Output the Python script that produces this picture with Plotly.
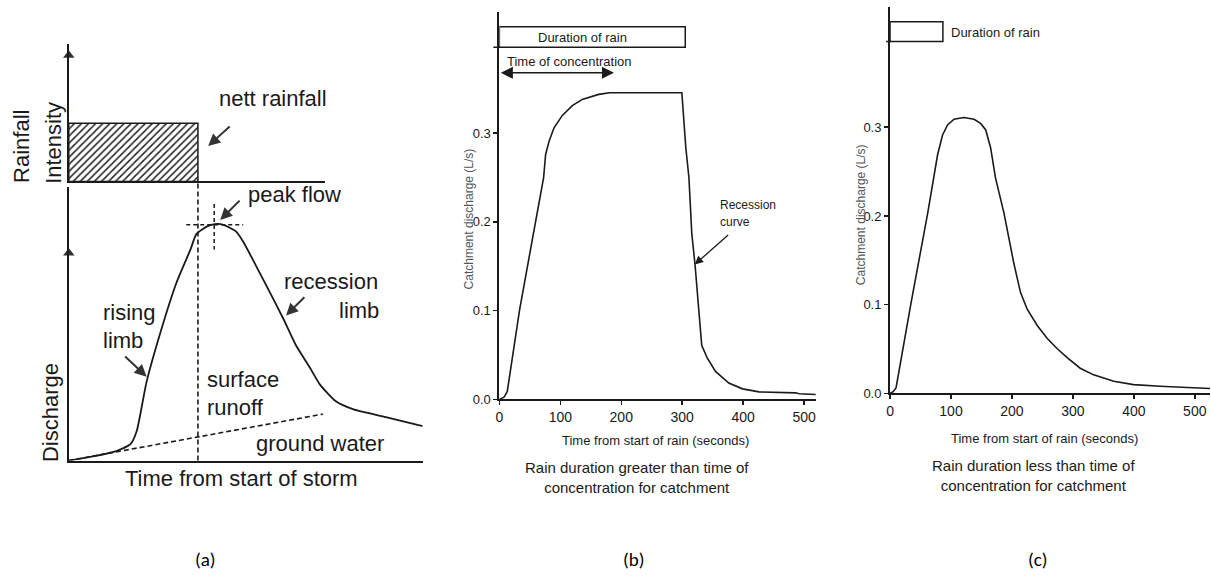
import plotly.graph_objects as go

W, H = 1211, 580

def fx(px):
    return px / W

def fy(py):
    return 1 - py / H

# ---------------- DATA ----------------
# (a) schematic storm hydrograph (arbitrary units, time 0-100, discharge 0-100)
storm_t = [0, 12.7, 17.5, 19.2, 22.0, 25.9, 30.4, 34.4, 36.1, 39.4, 41.7, 43.7, 47.3, 49.3,
           53.0, 56.9, 60.6, 64.2, 68.2, 71.0, 75.5, 80.3, 89.6, 100]
storm_q = [0, 3.2, 6.1, 10.8, 28.9, 46.9, 65.0, 77.3, 83.0, 85.9, 86.6, 86.3, 83.8, 80.1,
           71.1, 61.4, 52.0, 42.2, 33.9, 27.8, 21.7, 18.8, 15.9, 12.6]
ground_t = [0, 12.7, 35.8, 71.8]
ground_q = [0, 3.0, 8.3, 17.0]
rain_t = [0, 36.5]          # start / end of nett rainfall
rain_intensity = 42.4       # nett rainfall intensity (arbitrary)
peak_t = 41.1
peak_q = 86.3

# (b) rain duration greater than time of concentration
time_b = [0, 7.6, 10.4, 13, 33.3, 59.4, 72.6, 75.9, 81.6, 89.7, 103.3, 119.7, 136, 163, 181,
          299.4, 302, 306, 311, 315.7, 321, 326.6, 332, 341, 354.6, 376.4, 399, 426, 486,
          492, 519]
flow_b = [0, 0.0026, 0.0056, 0.009, 0.1015, 0.2, 0.25, 0.276, 0.291, 0.306, 0.320, 0.331,
          0.338, 0.3437, 0.3456, 0.3456, 0.32, 0.283, 0.25, 0.187, 0.152, 0.102, 0.061,
          0.0467, 0.0315, 0.0185, 0.0119, 0.0085, 0.0074, 0.0063, 0.0056]
rain_duration_b = 305
conc_time_b = 188

# (c) rain duration less than time of concentration
time_c = [0, 5, 9.8, 34.3, 61.7, 71.4, 78, 86, 94.3, 105, 121, 138, 149, 157, 165, 173, 187,
          203, 214, 225, 241.5, 258, 274, 290.6, 312, 334, 367, 399.6, 443, 525]
flow_c = [0, 0.002, 0.0063, 0.1015, 0.203, 0.243, 0.269, 0.291, 0.3026, 0.309, 0.311, 0.309,
          0.304, 0.297, 0.277, 0.243, 0.203, 0.147, 0.114, 0.095, 0.0767, 0.0619, 0.0507,
          0.0404, 0.0285, 0.021, 0.0137, 0.01, 0.0081, 0.0056]
rain_duration_c = 86.7

x_ticks = [0, 100, 200, 300, 400, 500]
y_ticks = [0.0, 0.1, 0.2, 0.3]

INK = "#1a1a1a"
FONT = "Liberation Sans, Arial, sans-serif"

fig = go.Figure()

# ---------- panel (a) ----------
fig.add_trace(go.Scatter(
    x=[rain_t[0], rain_t[0], rain_t[1], rain_t[1], rain_t[0]],
    y=[0, rain_intensity, rain_intensity, 0, 0],
    mode="lines", fill="toself", fillcolor="rgba(0,0,0,0)",
    fillpattern=dict(shape="/", size=5, solidity=0.3, fgcolor="#222", bgcolor="white",
                     fillmode="replace"),
    line=dict(color=INK, width=1.5), xaxis="x2", yaxis="y2", hoverinfo="skip"))

fig.add_trace(go.Scatter(x=storm_t, y=storm_q, mode="lines",
                         line=dict(color=INK, width=1.8, shape="spline", smoothing=0.6),
                         xaxis="x", yaxis="y", hoverinfo="skip"))
fig.add_trace(go.Scatter(x=ground_t, y=ground_q, mode="lines",
                         line=dict(color=INK, width=1.6, dash="5px,3px"),
                         xaxis="x", yaxis="y", hoverinfo="skip"))
# crosshair at peak
fig.add_trace(go.Scatter(x=[peak_t - 7.9, peak_t + 8.2], y=[peak_q, peak_q], mode="lines",
                         line=dict(color=INK, width=1.5, dash="4px,3px"),
                         xaxis="x", yaxis="y", hoverinfo="skip"))
fig.add_trace(go.Scatter(x=[peak_t, peak_t], y=[peak_q + 7.6, peak_q - 9], mode="lines",
                         line=dict(color=INK, width=1.5, dash="4px,3px"),
                         xaxis="x", yaxis="y", hoverinfo="skip", cliponaxis=False))
# axis arrowheads
fig.add_trace(go.Scatter(x=[0], y=[92], mode="markers", cliponaxis=False,
                         marker=dict(symbol="triangle-up", size=10, color="#333"),
                         xaxis="x2", yaxis="y2", hoverinfo="skip"))
fig.add_trace(go.Scatter(x=[0], y=[76], mode="markers", cliponaxis=False,
                         marker=dict(symbol="triangle-up", size=10, color="#333"),
                         xaxis="x", yaxis="y", hoverinfo="skip"))

# ---------- panel (b) ----------
fig.add_trace(go.Scatter(x=time_b, y=flow_b, mode="lines",
                         line=dict(color=INK, width=1.6),
                         xaxis="x3", yaxis="y3", hoverinfo="skip"))
# ---------- panel (c) ----------
fig.add_trace(go.Scatter(x=time_c, y=flow_c, mode="lines",
                         line=dict(color=INK, width=1.6),
                         xaxis="x4", yaxis="y4", hoverinfo="skip"))

shapes = [
    # dashed vertical line at end of rainfall
    dict(type="line", xref="x", yref="paper", x0=rain_t[1], x1=rain_t[1],
         y0=fy(467), y1=fy(184), line=dict(color=INK, width=1.6, dash="5px,3px")),
    # duration of rain boxes
    dict(type="rect", xref="x3", yref="y3", x0=0, x1=rain_duration_b, y0=0.3967, y1=0.42,
         line=dict(color=INK, width=1.5)),
    dict(type="line", xref="paper", yref="y3", x0=fx(491), x1=fx(498), y0=0.3967, y1=0.3967,
         line=dict(color=INK, width=1.5)),
    dict(type="rect", xref="x4", yref="y4", x0=0, x1=rain_duration_c, y0=0.3967, y1=0.419,
         line=dict(color=INK, width=1.5)),
    dict(type="line", xref="paper", yref="y4", x0=fx(885), x1=fx(890), y0=0.3967, y1=0.3967,
         line=dict(color=INK, width=1.5)),
]

big = dict(family=FONT, size=22, color=INK)
mid = dict(family=FONT, size=13, color=INK)

ann = []

def text(x, y, s, xref, yref, font, xanchor="center", yanchor="middle", angle=0):
    ann.append(dict(x=x, y=y, text=s, xref=xref, yref=yref, showarrow=False, font=font,
                    xanchor=xanchor, yanchor=yanchor, textangle=angle))

def arrow(x, y, ax, ay, xref, yref, size=1.2, width=2, side="end", color="#333"):
    ann.append(dict(x=x, y=y, ax=ax, ay=ay, xref=xref, yref=yref, axref=xref, ayref=yref,
                    text="", showarrow=True, arrowhead=2, arrowsize=size, arrowwidth=width,
                    arrowcolor=color, arrowside=side))

# panel (a) labels
text(57.7, 60.4, "nett rainfall", "x2", "y2", big)
arrow(39.4, 25.9, 45.9, 41.0, "x2", "y2")
text(63.7, 97.5, "peak flow", "x", "y", big)
arrow(42.8, 88.1, 48.7, 95.7, "x", "y")
text(74.1, 65.7, "recession", "x", "y", big)
text(88.2, 54.9, "limb", "x", "y", big, xanchor="right")
arrow(61.4, 53.1, 67.0, 60.3, "x", "y")
text(9.0, 54.2, "rising", "x", "y", big, xanchor="left")
text(9.0, 44.0, "limb", "x", "y", big, xanchor="left")
arrow(22.0, 30.7, 15.5, 38.6, "x", "y")
text(38.6, 29.6, "surface", "x", "y", big, xanchor="left")
text(38.6, 19.5, "runoff", "x", "y", big, xanchor="left")
text(71.0, 6.1, "ground water", "x", "y", big)
text(fx(238), fy(485), "Time from start of storm", "paper", "paper", big)
text(fx(18), fy(148), "Rainfall", "paper", "paper", big, angle=-90)
text(fx(49), fy(145), "Intensity", "paper", "paper", big, angle=-90)
text(fx(46), fy(418), "Discharge", "paper", "paper", big, angle=-90)

# panel (b) labels
text(136, 0.408, "Duration of rain", "x3", "y3", mid)
text(10, 0.381, "Time of concentration", "x3", "y3", mid, xanchor="left")
arrow(conc_time_b, 0.368, 0, 0.368, "x3", "y3", size=1.6, width=1.5, side="end+start",
      color=INK)
text(358, 0.219, "Recession", "x3", "y3", dict(family=FONT, size=12, color=INK),
     xanchor="left")
text(358, 0.200, "curve", "x3", "y3", dict(family=FONT, size=12, color=INK), xanchor="left")
arrow(320.5, 0.152, 377.8, 0.1867, "x3", "y3", size=1.3, width=1.3, color=INK)
text(fx(654), fy(447), "Time from start of rain (seconds)", "paper", "paper", mid)
text(fx(466), fy(222), "Catchment discharge (L/s)", "paper", "paper",
     dict(family=FONT, size=12, color="#555"), angle=-90)
text(fx(635), fy(484), "Rain duration greater than time of<br>concentration for catchment",
     "paper", "paper", dict(family=FONT, size=15, color=INK))

# panel (c) labels
text(96.5, 0.4067, "Duration of rain", "x4", "y4", mid, xanchor="left")
text(fx(1044), fy(445), "Time from start of rain (seconds)", "paper", "paper", mid)
text(fx(860), fy(218), "Catchment discharge (L/s)", "paper", "paper",
     dict(family=FONT, size=12, color="#555"), angle=-90)
text(fx(1033), fy(482), "Rain duration less than time of<br>concentration for catchment",
     "paper", "paper", dict(family=FONT, size=15, color=INK))

# captions
cap = dict(family="Carlito, Lato, sans-serif", size=19, color="#000")
text(fx(202), fy(567), "(a)", "paper", "paper", cap)
text(fx(632), fy(567), "(b)", "paper", "paper", cap)
text(fx(1037), fy(567), "(c)", "paper", "paper", cap)

plain = dict(showgrid=False, zeroline=False, showline=True, linecolor=INK, linewidth=2,
             ticks="", showticklabels=False, fixedrange=True)
num_x = dict(showgrid=False, zeroline=False, showline=True, linecolor=INK, linewidth=2,
             ticks="outside", ticklen=4, tickwidth=1.5, tickcolor=INK, tickvals=x_ticks,
             tickfont=dict(family=FONT, size=14, color=INK))
num_y = dict(showgrid=False, zeroline=False, showline=True, linecolor=INK, linewidth=2,
             ticks="outside", ticklen=4, tickwidth=1.5, tickcolor=INK, tickvals=y_ticks,
             tickformat=".1f", tickfont=dict(family=FONT, size=13, color=INK))

fig.update_layout(
    width=W, height=H, margin=dict(l=0, r=0, t=0, b=0),
    paper_bgcolor="white", plot_bgcolor="white", showlegend=False,
    xaxis=dict(plain, domain=[fx(65), fx(420)], range=[0, 100], anchor="y"),
    yaxis=dict(plain, domain=[fy(467), fy(190)], range=[0, 100], anchor="x"),
    xaxis2=dict(plain, domain=[fx(65), fx(322)], range=[0, 72.4], anchor="y2"),
    yaxis2=dict(plain, domain=[fy(184), fy(45)], range=[0, 100], anchor="x2"),
    xaxis3=dict(num_x, domain=[fx(497), fx(815)], range=[0, 520], anchor="y3"),
    yaxis3=dict(num_y, domain=[fy(405), fy(12)], range=[0, 0.4367], anchor="x3"),
    xaxis4=dict(num_x, domain=[fx(889), fx(1210)], range=[0, 525], anchor="y4"),
    yaxis4=dict(num_y, domain=[fy(399), fy(7)], range=[0, 0.4356], anchor="x4"),
    shapes=shapes, annotations=ann,
)

fig.write_html("out.html",
               config={"displayModeBar": False, "staticPlot": True},
               post_script="document.body.style.margin='0px';"
                           "document.body.style.overflow='hidden';")
